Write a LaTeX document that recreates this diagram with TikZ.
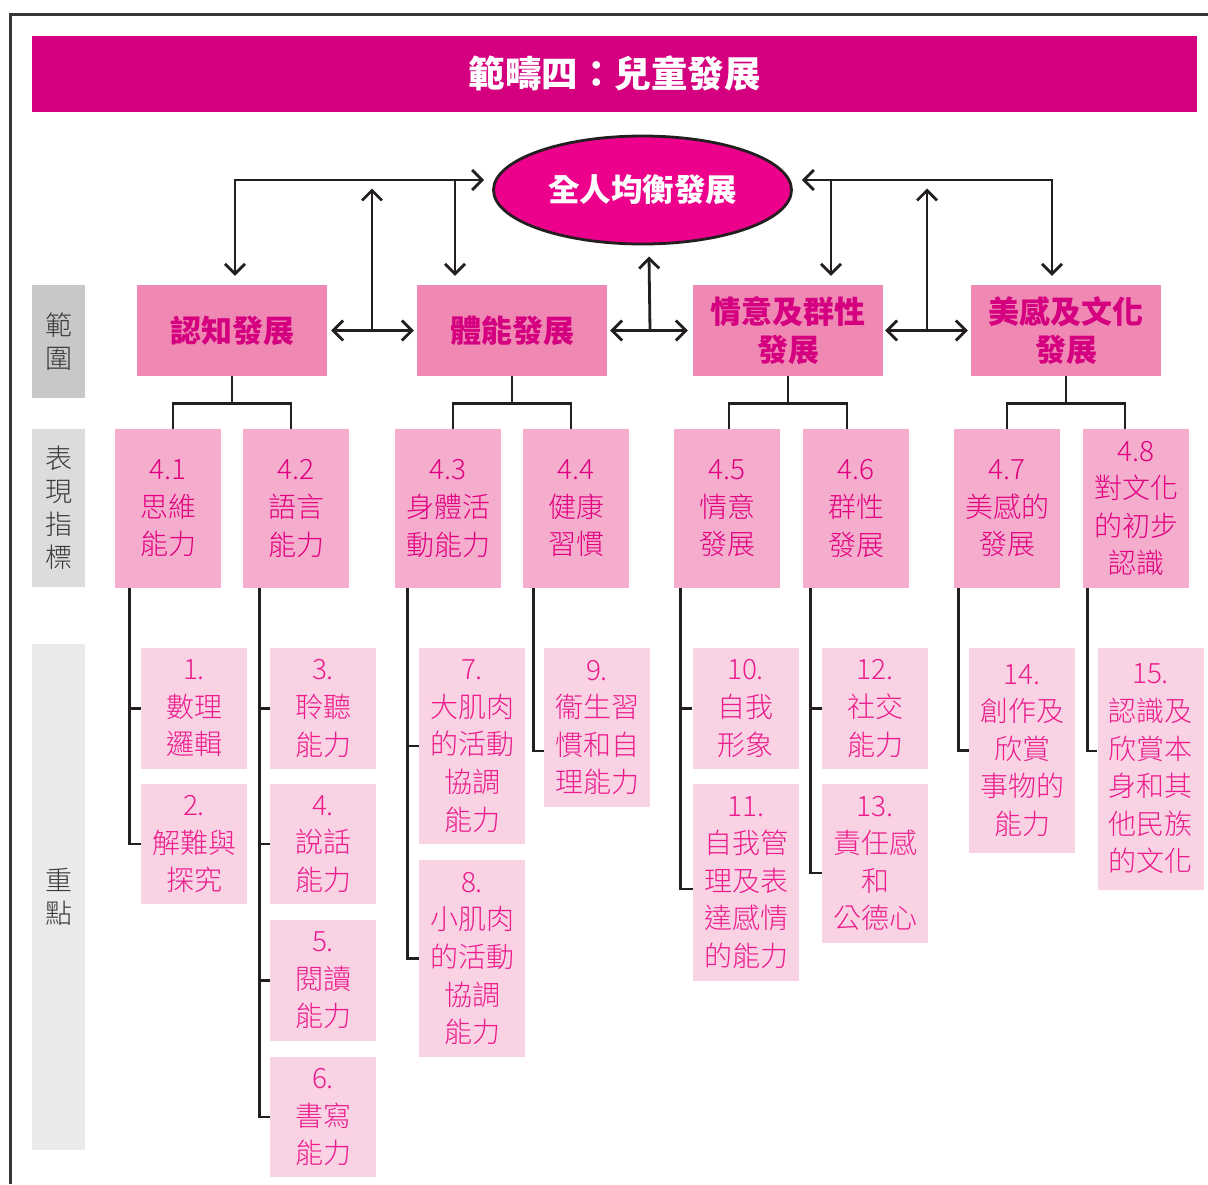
\documentclass[tikz,border=0pt]{standalone}
\usepackage{fontspec}
\setmainfont{Noto Sans CJK TC}
\newfontfamily\lightfont{Noto Sans CJK TC}[UprightFont={* Light}]
\usetikzlibrary{shapes.geometric,arrows.meta,calc}
\definecolor{barc}{HTML}{D5007F}
\definecolor{ellc}{HTML}{EC008C}
\definecolor{lvone}{HTML}{F088B4}
\definecolor{lvonetext}{HTML}{D4007F}
\definecolor{indc}{HTML}{F4ADCD}
\definecolor{indtext}{HTML}{E2007F}
\definecolor{itemc}{HTML}{F9D3E4}
\definecolor{itemtext}{HTML}{EC1C8C}
\definecolor{grayA}{HTML}{C8C8CA}
\definecolor{grayB}{HTML}{DCDCDE}
\definecolor{grayC}{HTML}{EAEAEC}
\definecolor{linec}{HTML}{231F20}
\definecolor{labtext}{HTML}{3A3A3A}
\begin{document}
\begin{tikzpicture}[x=1pt,y=-1pt,
  conn/.style={draw=linec,line width=2.8pt},
  arr/.style={conn,-{Straight Barb[length=10pt,width=20pt]}},
  darr/.style={conn,{Straight Barb[length=10pt,width=20pt]}-{Straight Barb[length=10pt,width=20pt]}},
  lvbox/.style={fill=lvone,minimum width=190pt,minimum height=91pt,inner sep=0pt,align=center,text=lvonetext,font=\fontsize{31}{38}\selectfont\bfseries},
  indbox/.style={fill=indc,minimum width=106pt,minimum height=159pt,inner sep=0pt,align=center,text=indtext,font=\lightfont\fontsize{28}{37.6}\selectfont,execute at begin node={\rule{0pt}{25pt}}},
  itembox/.style={fill=itemc,minimum width=106pt,inner sep=0pt,align=center,text=itemtext,font=\lightfont\fontsize{28}{37.6}\selectfont,execute at begin node={\rule{0pt}{25pt}}},
  labbox/.style={minimum width=53pt,inner sep=0pt,align=center,text=labtext,font=\lightfont\fontsize{27}{33}\selectfont},
]
\useasboundingbox (0,0) rectangle (1208,1184);
% frame
\draw[draw=linec!90,line width=3pt] (1208,14) -- (10,14) -- (10,1184);
% title
\node[fill=barc,minimum width=1165pt,minimum height=76pt,inner sep=0pt,text=white,font=\fontsize{36.5}{40}\selectfont\bfseries] (title) at (614.5,73.5) {範疇四：兒童發展};
% ellipse
\node[ellipse,draw=linec,line width=2.8pt,fill=ellc,minimum width=298pt,minimum height=108pt,inner sep=0pt,text=white,font=\fontsize{31.5}{36}\selectfont\bfseries] (e) at (642.5,190) {全人均衡發展};
% labels
\node[labbox,fill=grayA,minimum height=113pt] (lab1) at (58.5,341.5) {範\\圍};
\node[labbox,fill=grayB,minimum height=158pt] (lab2) at (58.5,508) {表\\現\\指\\標};
\node[labbox,fill=grayC,minimum height=506pt] (lab3) at (58.5,897) {重\\點};
% level 1
\node[lvbox] (n1) at (232,330.5) {認知發展};
\node[lvbox] (n2) at (512,330.5) {體能發展};
\node[lvbox] (n3) at (788,330.5) {情意及群性\\發展};
\node[lvbox] (n4) at (1066,330.5) {美感及文化\\發展};
% indicators
\node[indbox] (d41) at (168,508.5) {4.1\\思維\\能力};
\node[indbox] (d42) at (296,508.5) {4.2\\語言\\能力};
\node[indbox] (d43) at (448,508.5) {4.3\\身體活\\動能力};
\node[indbox] (d44) at (576,508.5) {4.4\\健康\\習慣};
\node[indbox] (d45) at (727,508.5) {4.5\\情意\\發展};
\node[indbox] (d46) at (856,508.5) {4.6\\群性\\發展};
\node[indbox] (d47) at (1007,508.5) {4.7\\美感的\\發展};
\node[indbox] (d48) at (1136,508.5) {4.8\\對文化\\的初步\\認識};
% items
\node[itembox,minimum height=121pt] (i1) at (194,708.5) {1.\\數理\\邏輯};
\node[itembox,minimum height=120pt] (i2) at (194,844) {2.\\解難與\\探究};
\node[itembox,minimum height=121pt] (i3) at (323,708.5) {3.\\聆聽\\能力};
\node[itembox,minimum height=120pt] (i4) at (323,844) {4.\\說話\\能力};
\node[itembox,minimum height=121pt] (i5) at (323,980.5) {5.\\閱讀\\能力};
\node[itembox,minimum height=120pt] (i6) at (323,1117) {6.\\書寫\\能力};
\node[itembox,minimum height=196pt] (i7) at (472,746) {7.\\大肌肉\\的活動\\協調\\能力};
\node[itembox,minimum height=197pt] (i8) at (472,958.5) {8.\\小肌肉\\的活動\\協調\\能力};
\node[itembox,minimum height=159pt] (i9) at (597,727.5) {9.\\衞生習\\慣和自\\理能力};
\node[itembox,minimum height=121pt] (i10) at (745.5,708.5) {10.\\自我\\形象};
\node[itembox,minimum height=197pt] (i11) at (746,882.5) {11.\\自我管\\理及表\\達感情\\的能力};
\node[itembox,minimum height=121pt] (i12) at (875,708.5) {12.\\社交\\能力};
\node[itembox,minimum height=159pt] (i13) at (875,863.5) {13.\\責任感\\和\\公德心};
\node[itembox,minimum height=205pt] (i14) at (1022,750.5) {14.\\創作及\\欣賞\\事物的\\能力};
\node[itembox,minimum height=242pt] (i15) at (1150.5,769) {15.\\認識及\\欣賞本\\身和其\\他民族\\的文化};
% top arrows
\draw[darr] ($(n1.north)+(3,-9)$) |- ($(e.west)+(-8,-10)$);
\draw[arr] ($(n2.north)+(-57,-105)$) -- ($(n2.north)+(-57,-9)$);
\draw[darr] ($(n4.north)+(-14,-9)$) |- ($(e.east)+(9,-10)$);
\draw[arr] ($(n3.north)+(43,-105)$) -- ($(n3.north)+(43,-9)$);
\coordinate (m12) at ($(n1.east)!0.5!(n2.west)$);
\coordinate (m23) at ($(n2.east)!0.5!(n3.west)$);
\coordinate (m34) at ($(n3.east)!0.5!(n4.west)$);
\draw[darr] ($(n1.east)+(4,0)$) -- ($(n2.west)+(-3,0)$);
\draw[darr] ($(n2.east)+(3,0)$) -- ($(n3.west)+(-5,0)$);
\draw[darr] ($(n3.east)+(2,0)$) -- ($(n4.west)+(-3,0)$);
\draw[arr] (m12) -- ($(m12)+(0,-142)$);
\draw[arr] (m23) -- ($(m23)+(-1,-74)$);
\draw[arr] (m34) -- ($(m34)+(0,-142)$);
% tree level1 -> indicators
\foreach \p/\a/\b in {n1/d41/d42,n2/d43/d44,n3/d45/d46,n4/d47/d48}{
  \draw[conn] (\p.south) -- ($(\p.south)+(0,27)$);
  \draw[conn] ($(\p.south |- \a.north)+(-59,0)$) |- ($(\p.south)+(0,27)$) -| ($(\p.south |- \a.north)+(59,0)$);
}
% indicator -> items
\draw[conn] ($(i1.west |- d41.south)+(-11,0)$) |- (i2.west);
\draw[conn] ($(i1.west)+(-11,0)$) -- (i1.west);
\draw[conn] ($(i3.west |- d42.south)+(-10,0)$) |- (i6.west);
\draw[conn] ($(i3.west)+(-10,0)$) -- (i3.west);
\draw[conn] ($(i4.west)+(-10,0)$) -- (i4.west);
\draw[conn] ($(i5.west)+(-10,0)$) -- (i5.west);
\draw[conn] ($(i7.west |- d43.south)+(-11,0)$) |- (i8.west);
\draw[conn] ($(i7.west)+(-11,0)$) -- (i7.west);
\draw[conn] ($(i9.west |- d44.south)+(-10,0)$) |- ($(i9.west)+(0,23.5)$);
\draw[conn] ($(i10.west |- d45.south)+(-12,0)$) |- ($(i11.west)+(0,6.5)$);
\draw[conn] ($(i10.west)+(-12,0)$) -- (i10.west);
\draw[conn] ($(i12.west |- d46.south)+(-11,0)$) |- ($(i13.west)+(0,9.5)$);
\draw[conn] ($(i12.west)+(-11,0)$) -- (i12.west);
\draw[conn] ($(i14.west |- d47.south)+(-10,0)$) |- (i14.west);
\draw[conn] ($(i15.west |- d48.south)+(-10,0)$) |- ($(i15.west)+(0,-18)$);
\end{tikzpicture}
\end{document}
